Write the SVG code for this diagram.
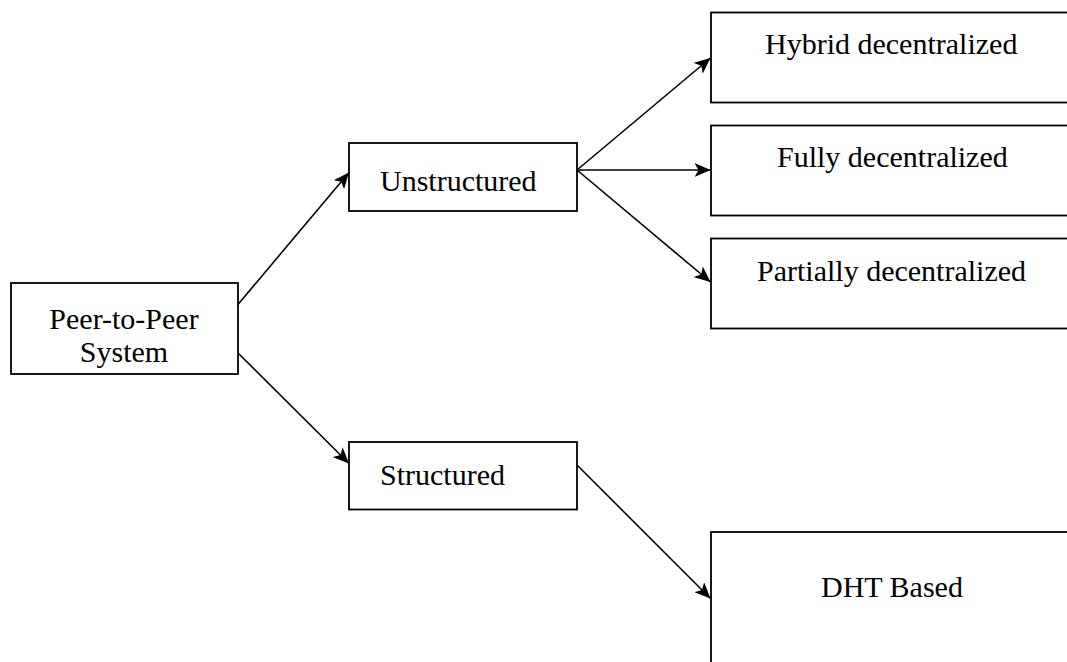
<svg xmlns="http://www.w3.org/2000/svg" width="1067" height="662" viewBox="0 0 1067 662">
  <style>
    .box { fill: #ffffff; stroke: #000000; stroke-width: 1.8; }
    .label { font-family: "Liberation Serif", "Times New Roman", serif; font-size: 30px; fill: #000000; }
    .edge { fill: none; stroke: #000000; stroke-width: 1.6; marker-end: url(#arrow); }
  </style>
  <defs>
    <marker id="arrow" markerUnits="userSpaceOnUse" markerWidth="17" markerHeight="14" refX="16" refY="7" orient="auto">
      <path d="M0,0 L16,7 L0,14 L4,7 Z" fill="#000000"/>
    </marker>
  </defs>

  <rect width="1067" height="662" fill="#ffffff"/>

  <g id="connectors">
    <line class="edge" x1="237.5" y1="305" x2="349" y2="172.5"/>
    <line class="edge" x1="237.5" y1="352.5" x2="349" y2="463.5"/>
    <line class="edge" x1="577" y1="170" x2="710.5" y2="58"/>
    <line class="edge" x1="577" y1="170" x2="710.5" y2="170"/>
    <line class="edge" x1="577" y1="170" x2="710.5" y2="282"/>
    <line class="edge" x1="577" y1="465" x2="710.5" y2="598.5"/>
  </g>

  <g id="peer-to-peer">
    <rect class="box" x="11" y="283" width="227" height="91"/>
    <text class="label" x="124" y="329" text-anchor="middle">Peer-to-Peer</text>
    <text class="label" x="124" y="362" text-anchor="middle">System</text>
  </g>

  <g id="unstructured">
    <rect class="box" x="349" y="143" width="228" height="68"/>
    <text class="label" x="380" y="191">Unstructured</text>
  </g>

  <g id="structured">
    <rect class="box" x="349" y="442" width="228" height="67.5"/>
    <text class="label" x="380" y="485">Structured</text>
  </g>

  <g id="hybrid-decentralized">
    <rect class="box" x="711" y="12.5" width="400" height="90"/>
    <text class="label" x="765" y="54">Hybrid decentralized</text>
  </g>

  <g id="fully-decentralized">
    <rect class="box" x="711" y="125.5" width="400" height="90"/>
    <text class="label" x="777" y="167">Fully decentralized</text>
  </g>

  <g id="partially-decentralized">
    <rect class="box" x="711" y="238.5" width="400" height="90"/>
    <text class="label" x="757" y="281">Partially decentralized</text>
  </g>

  <g id="dht-based">
    <rect class="box" x="711" y="532" width="400" height="200"/>
    <text class="label" x="821" y="597">DHT Based</text>
  </g>
</svg>
